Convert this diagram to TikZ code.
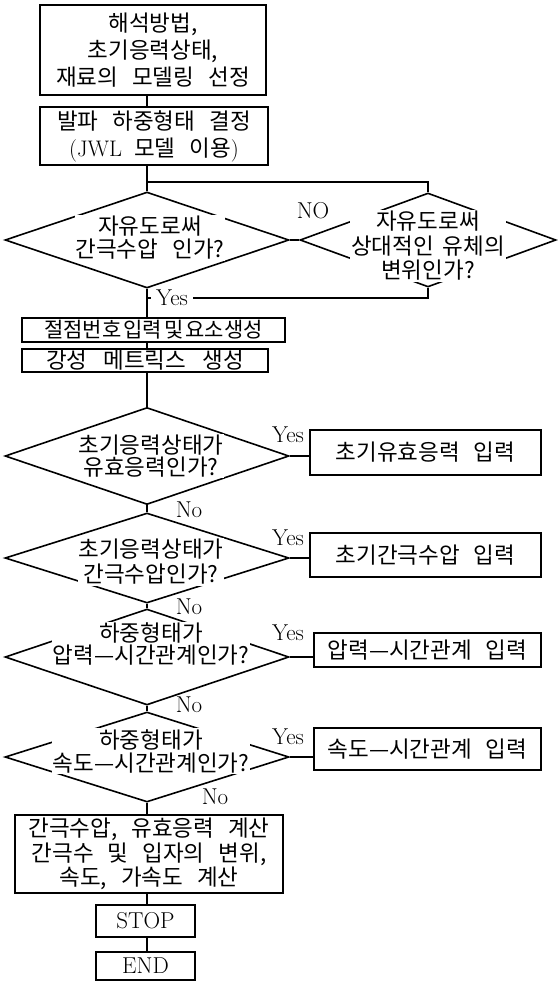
\documentclass[tikz,border=0pt]{standalone}
\usepackage{fontspec}
\newfontfamily\kr{Noto Sans CJK KR}
\newcommand\ks{\hspace{14pt}}
\usetikzlibrary{shapes.geometric}
\begin{document}
\begin{tikzpicture}[x=1pt,y=-1pt,line width=1.6pt,
  box/.style={draw,rectangle,inner sep=0pt,align=center,font=\kr\fontsize{22.5}{27}\selectfont},
  dia/.style={draw,diamond,inner sep=0pt},
  dtext/.style={fill=white,inner sep=1pt,align=center,font=\kr\fontsize{22.5}{23}\selectfont},
  lab/.style={font=\fontsize{23}{23}\selectfont,inner sep=1pt}]
\useasboundingbox (0,0) rectangle (557,982);
\coordinate (ax) at (147,0);
\coordinate (J) at (147,182);
\coordinate (Y) at (147,298);
% boxes and decisions
\node[box,minimum width=226pt,minimum height=90pt] (b1) at (153,50) {해석방법,\\초기응력상태,\\재료의\ks 모델링\ks 선정};
\node[box,minimum width=228pt,minimum height=58pt] (b2) at (154,136) {발파\ks 하중형태\ks 결정\\\textrm{(JWL}\hspace{12pt}모델\ks 이용\textrm{)}};
\node[dia,minimum width=284pt,minimum height=96pt] (d1) at (147,240) {};
\node[dia,minimum width=256pt,minimum height=94pt] (d2) at (428,240) {};
\node[dtext] (t1) at (150,238) {자유도로써\\간극수압\ks 인가?};
\node[dtext,font=\kr\fontsize{22.5}{24.5}\selectfont] (t2) at (428,246) {자유도로써\\상대적인\hspace{9pt}유체의\\변위인가?};
\node[box,minimum width=263pt,minimum height=24pt,font=\kr\fontsize{21}{27}\selectfont] (b3) at (153.5,330) {절점번호\hspace{2pt}입력\hspace{2pt}및\hspace{2pt}요소생성};
\node[box,minimum width=246pt,minimum height=23pt] (b4) at (145,360.5) {강성\hspace{16pt}메트릭스\hspace{16pt}생성};
\node[dia,minimum width=284pt,minimum height=97pt] (d3) at (147,456) {};
\node[dtext,font=\kr\fontsize{22.5}{22}\selectfont] (t3) at (151,456) {초기응력상태가\\유효응력인가?};
\node[box,minimum width=231pt,minimum height=45pt] (b5) at (425.5,452.5) {초기유효응력\ks 입력};
\node[dia,minimum width=284pt,minimum height=90pt] (d4) at (147,558) {};
\node[dtext,font=\kr\fontsize{22.5}{25}\selectfont] (t4) at (151,562) {초기응력상태가\\간극수압인가?};
\node[box,minimum width=231pt,minimum height=44pt] (b6) at (425.5,555) {초기간극수압\ks 입력};
\node[dia,minimum width=284pt,minimum height=96pt] (d5) at (147,657) {};
\node[dtext,font=\kr\fontsize{22.5}{22}\selectfont] (t5) at (151,644) {하중형태가\\압력—시간관계인가?};
\node[box,minimum width=227pt,minimum height=34pt] (b7) at (427.5,650) {압력—시간관계\ks 입력};
\node[dia,minimum width=284pt,minimum height=90pt] (d6) at (147,757) {};
\node[dtext,font=\kr\fontsize{22.5}{23}\selectfont] (t6) at (151,751) {하중형태가\\속도—시간관계인가?};
\node[box,minimum width=227pt,minimum height=42pt] (b8) at (427.5,749) {속도—시간관계\ks 입력};
\node[box,minimum width=268pt,minimum height=78pt,font=\kr\fontsize{22.5}{24.5}\selectfont] (b9) at (149,854) {간극수압,\ks 유효응력\ks 계산\\간극수\ks 및\ks 입자의\ks 변위,\\속도,\ks 가속도\ks 계산};
\node[box,minimum width=99pt,minimum height=32pt,font=\fontsize{23}{23}\selectfont] (stopb) at (145.5,921) {STOP};
\node[box,minimum width=99pt,minimum height=28pt,font=\fontsize{23}{23}\selectfont] (endb) at (145.5,966) {END};
% connectors
\draw (b1.south -| ax) -- (b2.north -| ax);
\draw (b2.south -| ax) -- (d1.north);
\draw (J) -| (d2.north);
\draw (d1.east) -- (d2.west);
\draw (d1.south) -- (b3.north -| ax);
\draw (d2.south) |- (Y);
\draw (b3.south -| ax) -- (b4.north -| ax);
\draw (b4.south -| ax) -- (d3.north);
\draw (d3.east) -- (d3.east -| b5.west);
\draw (d3.south) -- (d4.north);
\draw (d4.east) -- (d4.east -| b6.west);
\draw (d4.south) -- (d5.north);
\draw (d5.east) -- (d5.east -| b7.west);
\draw (d5.south) -- (d6.north);
\draw (d6.east) -- (d6.east -| b8.west);
\draw (d6.south) -- (b9.north -| ax);
\draw (b9.south -| ax) -- (stopb.north -| ax);
\draw (stopb.south -| ax) -- (endb.north -| ax);
% labels
\node[lab] (no1) at (313,211) {NO};
\node[lab,fill=white,inner xsep=5pt] (yes1) at (172,298) {Yes};
\node[lab] (yes3) at (288,435) {Yes};
\node[lab] (no3) at (189,510) {No};
\node[lab] (yes4) at (288,538) {Yes};
\node[lab] (no4) at (189,607) {No};
\node[lab] (yes5) at (288,633) {Yes};
\node[lab] (no5) at (189,705) {No};
\node[lab] (yes6) at (288,737) {Yes};
\node[lab] (no6) at (215,797) {No};
\end{tikzpicture}
\end{document}
